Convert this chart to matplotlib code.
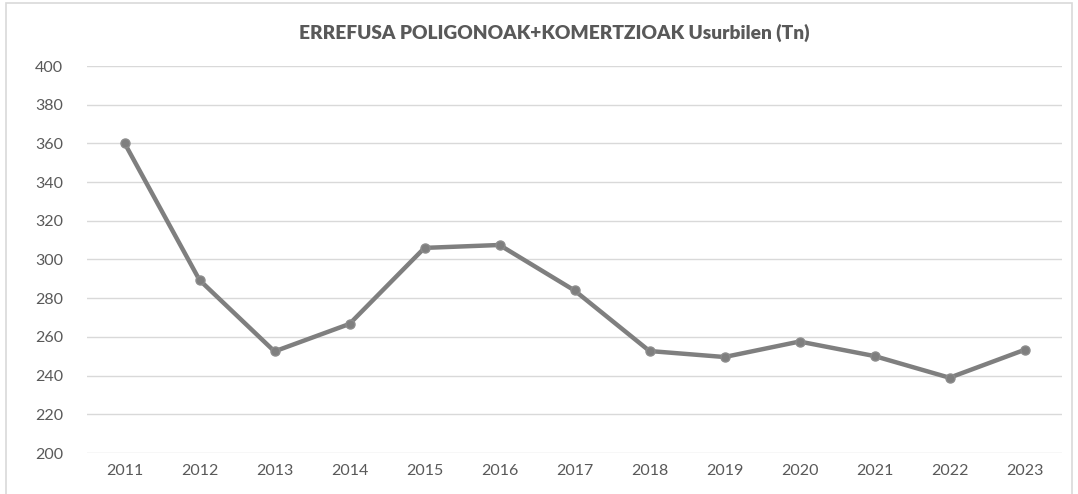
import matplotlib
matplotlib.use("Agg")
import matplotlib.pyplot as plt
from matplotlib.patches import Rectangle

years = ["2011", "2012", "2013", "2014", "2015", "2016", "2017",
         "2018", "2019", "2020", "2021", "2022", "2023"]
values = [360.2, 289.4, 252.5, 266.7, 306.0, 307.5, 284.0,
          252.7, 249.6, 257.6, 250.1, 238.9, 253.3]
yticks = [200, 220, 240, 260, 280, 300, 320, 340, 360, 380, 400]
title = "ERREFUSA POLIGONOAK+KOMERTZIOAK Usurbilen (Tn)"

plt.rcParams['font.family'] = ['Lato', 'DejaVu Sans']

fig = plt.figure(figsize=(10.78, 4.94), dpi=100)
fig.patch.set_facecolor('white')
fig.patches.append(Rectangle((6/1078, -0.05), (1072-6)/1078, 1.05 - 3/494,
                             transform=fig.transFigure, fill=False,
                             edgecolor='#d9d9d9', linewidth=1.2))

ax = fig.add_axes([87/1078, 1 - 453/494, (1062-87)/1078, (453-66)/494])
x = list(range(len(years)))
ax.plot(x, values, color='#7f7f7f', linewidth=3.2, marker='o', markersize=6.5,
        markerfacecolor='#7f7f7f', markeredgecolor='#8c8c8c', zorder=3)

ax.set_xlim(-0.5, len(years) - 0.5)
ax.set_ylim(200, 400)
ax.set_yticks(yticks)
ax.set_xticks(x)
ax.set_xticklabels(years)
ax.grid(axis='y', color='#d9d9d9', linewidth=1)
ax.set_axisbelow(True)
for s in ax.spines.values():
    s.set_visible(False)
ax.tick_params(axis='both', length=0, labelsize=11.5, labelcolor='#595959')
ax.tick_params(axis='y', pad=17)
ax.tick_params(axis='x', pad=8)

fig.text(554/1078, 1 - 33/494, title, ha='center', va='center', fontsize=13.8,
         fontweight='heavy', color='#595959')

fig.savefig('out.png', dpi=100, facecolor='white')
